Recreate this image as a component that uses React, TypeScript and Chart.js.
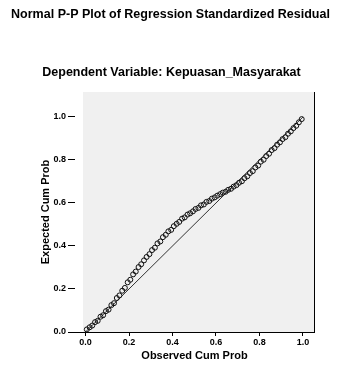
import { useEffect, useRef } from "react";
import { Chart, registerables } from "chart.js";

Chart.register(...registerables);

const chartTitle = "Normal P-P Plot of Regression Standardized Residual";
const chartSubtitle = "Dependent Variable: Kepuasan_Masyarakat";
const xAxisTitle = "Observed Cum Prob";
const yAxisTitle = "Expected Cum Prob";
const tickValues = [0, 0.2, 0.4, 0.6, 0.8, 1.0];
const referenceLine = [0, 1];

const observedCumProb = [
  0.006, 0.019, 0.031, 0.044, 0.056, 0.069, 0.081, 0.094, 0.106, 0.119,
  0.131, 0.144, 0.156, 0.169, 0.181, 0.194, 0.206, 0.219, 0.231, 0.244,
  0.256, 0.269, 0.281, 0.294, 0.306, 0.319, 0.331, 0.344, 0.356, 0.369,
  0.381, 0.394, 0.406, 0.419, 0.431, 0.444, 0.456, 0.469, 0.481, 0.494,
  0.506, 0.519, 0.531, 0.544, 0.556, 0.569, 0.581, 0.594, 0.606, 0.619,
  0.631, 0.644, 0.656, 0.669, 0.681, 0.694, 0.706, 0.719, 0.731, 0.744,
  0.756, 0.769, 0.781, 0.794, 0.806, 0.819, 0.831, 0.844, 0.856, 0.869,
  0.881, 0.894, 0.906, 0.919, 0.931, 0.944, 0.956, 0.969, 0.981, 0.994,
];

const expectedCumProb = [
  0.012, 0.022, 0.030, 0.046, 0.052, 0.071, 0.078, 0.097, 0.104, 0.125,
  0.134, 0.158, 0.170, 0.192, 0.205, 0.231, 0.243, 0.268, 0.281, 0.302,
  0.315, 0.333, 0.349, 0.362, 0.381, 0.392, 0.412, 0.421, 0.441, 0.452,
  0.468, 0.475, 0.492, 0.503, 0.512, 0.527, 0.533, 0.546, 0.552, 0.561,
  0.572, 0.577, 0.589, 0.593, 0.605, 0.609, 0.620, 0.626, 0.634, 0.641,
  0.648, 0.652, 0.661, 0.666, 0.676, 0.683, 0.694, 0.701, 0.715, 0.724,
  0.739, 0.748, 0.765, 0.774, 0.792, 0.801, 0.818, 0.829, 0.846, 0.855,
  0.871, 0.882, 0.897, 0.906, 0.922, 0.933, 0.948, 0.959, 0.975, 0.990,
];

const FONT = "'Liberation Sans', Arial, Helvetica, sans-serif";

const framePlugin = {
  id: "ppFrame",
  beforeDraw(chart: any) {
    const { ctx, chartArea, scales, width } = chart;
    const left = scales.x.getPixelForValue(-0.0115);
    ctx.save();
    ctx.fillStyle = "#f0f0f0";
    ctx.fillRect(left, chartArea.top, chartArea.right - left, chartArea.bottom - chartArea.top);
    ctx.fillStyle = "#000";
    ctx.textAlign = "center";
    ctx.textBaseline = "middle";
    ctx.font = `bold 12.5px ${FONT}`;
    ctx.fillText(chartTitle, width / 2, 15);
    ctx.font = `bold 12.5px ${FONT}`;
    ctx.fillText(chartSubtitle, width / 2 + 1, 73);
    ctx.restore();
  },
  afterDraw(chart: any) {
    const { ctx, chartArea } = chart;
    ctx.save();
    ctx.strokeStyle = "#000";
    ctx.lineWidth = 1;
    ctx.beginPath();
    ctx.moveTo(Math.round(chartArea.right) + 0.5, chartArea.top);
    ctx.lineTo(Math.round(chartArea.right) + 0.5, chartArea.bottom);
    ctx.stroke();
    ctx.restore();
  },
};

export default function App() {
  const canvasRef = useRef<HTMLCanvasElement | null>(null);

  useEffect(() => {
    if (!canvasRef.current) return;
    const points = observedCumProb.map((x, i) => ({ x, y: expectedCumProb[i] }));
    const line = referenceLine.map((v) => ({ x: v, y: v }));
    const chart = new Chart(canvasRef.current, {
      type: "scatter",
      data: {
        datasets: [
          {
            label: "Residuals",
            data: points,
            pointStyle: "circle",
            pointRadius: 2.5,
            borderColor: "#111",
            backgroundColor: "rgba(0,0,0,0)",
            borderWidth: 1,
          },
          {
            label: "Reference",
            data: line,
            showLine: true,
            pointRadius: 0,
            borderColor: "#333",
            borderWidth: 1,
          } as any,
        ],
      },
      options: {
        responsive: false,
        animation: false,
        layout: { padding: { left: 0, right: 27, top: 92, bottom: 0 } },
        plugins: {
          legend: { display: false },
          tooltip: { enabled: false },
          title: { display: false },
          subtitle: { display: false },
        },
        scales: {
          x: {
            type: "linear",
            position: "bottom",
            min: -0.0483,
            max: 1.0506,
            afterBuildTicks: (s: any) => {
              s.ticks = tickValues.map((v) => ({ value: v }));
            },
            afterFit: (s: any) => {
              s.height = 35;
            },
            border: { display: true, color: "#000", width: 1 },
            grid: { drawOnChartArea: false, drawTicks: true, tickLength: 4, color: "#000" },
            ticks: {
              autoSkip: false,
              maxRotation: 0,
              padding: 1,
              color: "#000",
              font: { family: FONT, size: 9, weight: "bold" },
              callback: (v: any) => Number(v).toFixed(1),
            },
            title: {
              display: true,
              text: xAxisTitle,
              color: "#000",
              font: { family: FONT, size: 11, weight: "bold" },
              padding: { top: 0, bottom: 4.4 },
            },
          },
          y: {
            type: "linear",
            min: 0,
            max: 1.116,
            afterBuildTicks: (s: any) => {
              s.ticks = tickValues.map((v) => ({ value: v }));
            },
            afterFit: (s: any) => {
              s.width = 75;
            },
            border: { display: false },
            grid: { drawOnChartArea: false, drawTicks: true, tickLength: 7, color: "#000" },
            ticks: {
              autoSkip: false,
              padding: 2,
              color: "#000",
              font: { family: FONT, size: 9, weight: "bold" },
              callback: (v: any) => Number(v).toFixed(1),
            },
            title: {
              display: true,
              text: yAxisTitle,
              color: "#000",
              font: { family: FONT, size: 11, weight: "bold" },
              padding: { top: 39.4, bottom: 0 },
            },
          },
        },
      },
      plugins: [framePlugin],
    });
    return () => chart.destroy();
  }, []);

  return (
    <div style={{ position: "fixed", left: 0, top: 0, width: 341, height: 367, background: "#fff" }}>
      <canvas ref={canvasRef} width={341} height={367} style={{ display: "block" }} />
    </div>
  );
}
